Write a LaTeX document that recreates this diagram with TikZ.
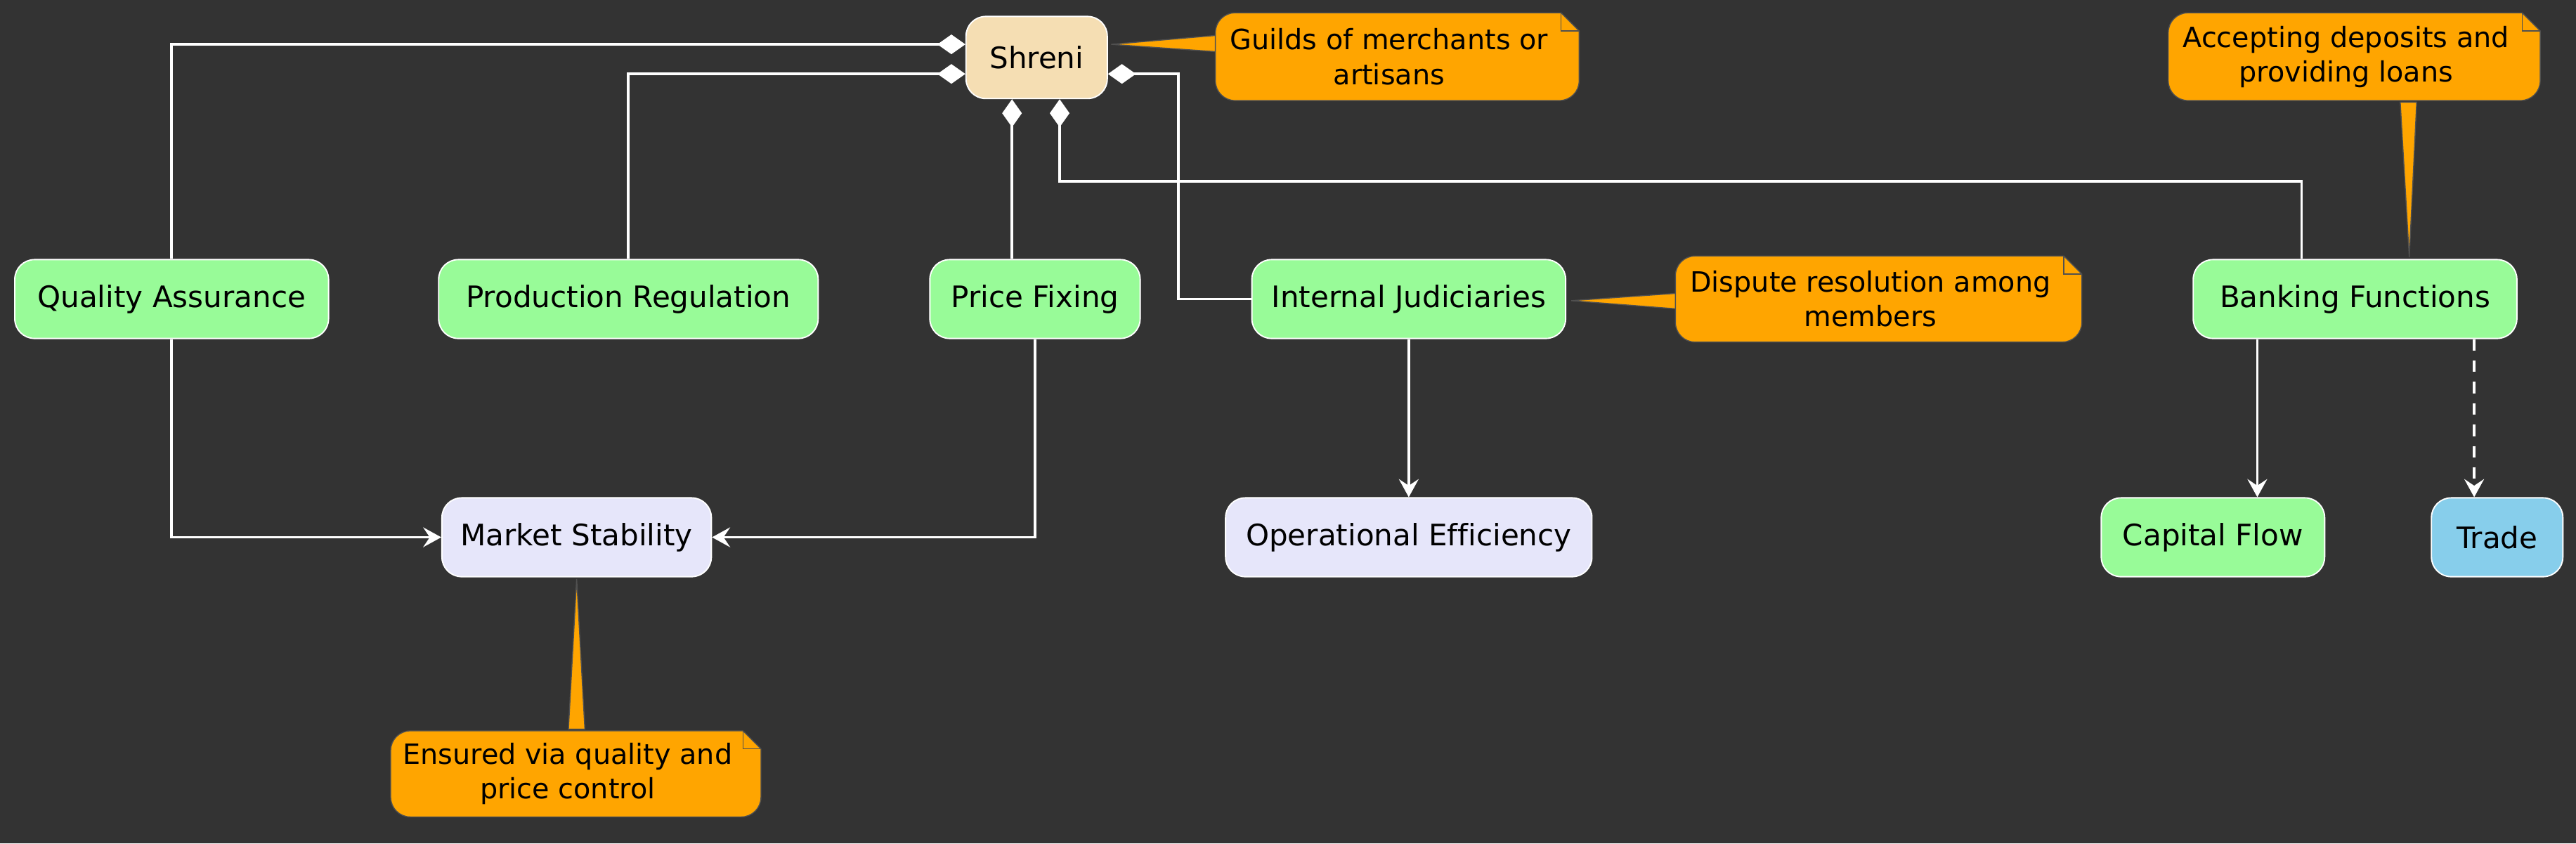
\documentclass[tikz,border=0pt]{standalone}
\usepackage{fontspec}
\setmainfont[Ligatures=NoCommon]{DejaVu Sans}
\usepackage{xcolor}
\usetikzlibrary{arrows.meta}
\definecolor{bgcol}{HTML}{333333}
\definecolor{palegreen}{HTML}{98FB98}
\definecolor{wheat}{HTML}{F5DEB3}
\definecolor{lavender}{HTML}{E6E6FA}
\definecolor{skyblue}{HTML}{87CEEB}
\definecolor{noteorange}{HTML}{FFA500}
\definecolor{noteline}{HTML}{505050}
\tikzset{
  box/.style={draw=white, line width=0.8pt, rounded corners=12pt, minimum height=48pt, inner sep=0pt, font=\fontsize{18}{21}\selectfont, text=black},
  notetext/.style={inner sep=0pt, minimum height=53pt, font=\fontsize{17}{21}\selectfont, align=center, text=black},
  notefill/.style={fill=noteorange, draw=noteline, line width=0.6pt},
  link/.style={white, line width=1.6pt},
  comp/.style={link, {Diamond[length=17pt,width=12pt]}-},
  flow/.style={link, -{Stealth[length=11pt,width=12pt,inset=4pt]}}
}
\newcommand{\notebody}[1]{%
  \filldraw[notefill] ([yshift=-12pt]#1.north west) arc[start angle=180,end angle=90,radius=12pt]
    -- ([xshift=-11pt]#1.north east) -- ([yshift=-11pt]#1.north east)
    -- ([yshift=12pt]#1.south east) arc[start angle=0,end angle=-90,radius=12pt]
    -- ([xshift=12pt]#1.south west) arc[start angle=270,end angle=180,radius=12pt] -- cycle;
  \draw[noteline, line width=0.6pt] ([xshift=-11pt]#1.north east) |- ([yshift=-11pt]#1.north east);
}
\begin{document}
\begin{tikzpicture}[x=1pt,y=1pt]
\fill[bgcol] (0,0) rectangle (1568,-513.3);
\useasboundingbox (0,0) rectangle (1568,-513.3);

\node[box, fill=wheat, minimum width=86pt, minimum height=50pt] (shreni) at (631,-35) {Shreni};
\node[box, fill=palegreen, minimum width=191pt] (qa) at (104.5,-182) {Quality Assurance};
\node[box, fill=palegreen, minimum width=231pt] (pr) at (382.5,-182) {Production Regulation};
\node[box, fill=palegreen, minimum width=128pt] (pf) at (630,-182) {Price Fixing};
\node[box, fill=palegreen, minimum width=191pt] (ij) at (857.5,-182) {Internal Judiciaries};
\node[box, fill=palegreen, minimum width=197pt] (bf) at (1433.5,-182) {Banking Functions};
\node[box, fill=lavender, minimum width=164pt] (ms) at (351,-327) {Market Stability};
\node[box, fill=lavender, minimum width=223pt] (oe) at (857.5,-327) {Operational Efficiency};
\node[box, fill=palegreen, minimum width=136pt] (cf) at (1347,-327) {Capital Flow};
\node[box, fill=skyblue, minimum width=80pt] (tr) at (1520,-327) {Trade};

\node[notetext, minimum width=221pt] (gnote) at (850.5,-34.5) {};
\node[notetext, minimum width=247pt, minimum height=52pt] (dnote) at (1143.5,-182) {};
\node[notetext, minimum width=226pt] (anote) at (1433,-34.5) {};
\node[notetext, minimum width=225pt, minimum height=52pt] (enote) at (350.5,-471) {};

\filldraw[notefill] ([shift={(2pt,8pt)}]shreni.east) -- ([shift={(1pt,13pt)}]gnote.west) -- ([shift={(1pt,3pt)}]gnote.west) -- cycle;
\filldraw[notefill] ([shift={(3pt,-1pt)}]ij.east) -- ([shift={(1pt,3.5pt)}]dnote.west) -- ([shift={(1pt,-6pt)}]dnote.west) -- cycle;
\filldraw[notefill] ([shift={(33pt,1pt)}]bf.north) -- ([shift={(28pt,-1pt)}]anote.south) -- ([shift={(38pt,-1pt)}]anote.south) -- cycle;
\filldraw[notefill] ([yshift=-1pt]ms.south) -- ([shift={(-4.5pt,1pt)}]enote.north) -- ([shift={(5.5pt,1pt)}]enote.north) -- cycle;
\notebody{gnote}
\notebody{dnote}
\notebody{anote}
\notebody{enote}
\node[notetext, minimum width=221pt] at ([xshift=-5pt]gnote.center) {Guilds of merchants or\\artisans};
\node[notetext, minimum width=247pt, minimum height=52pt] at ([xshift=-5pt]dnote.center) {Dispute resolution among\\members};
\node[notetext, minimum width=226pt] at ([xshift=-5pt]anote.center) {Accepting deposits and\\providing loans};
\node[notetext, minimum width=225pt, minimum height=52pt] at ([xshift=-5pt]enote.center) {Ensured via quality and\\price control};

\draw[comp] ([yshift=8pt]shreni.west) -| (qa.north);
\draw[comp] ([yshift=-10pt]shreni.west) -| (pr.north);
\draw[comp] ([xshift=-15pt]shreni.south) -- ([xshift=-15pt]shreni.south |- pf.north);
\draw[comp] ([xshift=14pt]shreni.south) -- ++(0,-50pt) -| ([xshift=-32.5pt]bf.north);
\draw[comp] ([yshift=-10pt]shreni.east) -- ++(43pt,0) |- (ij.west);

\draw[flow] (qa.south) |- (ms.west);
\draw[flow] (pf.south) |- (ms.east);
\draw[flow] (ij.south) -- (oe.north);
\draw[flow] ([xshift=-59.5pt]bf.south) -- ([xshift=-59.5pt]bf.south |- cf.north);
\draw[flow, dash pattern=on 7pt off 6pt] ([xshift=72.5pt]bf.south) -- ([xshift=72.5pt]bf.south |- tr.north);
\end{tikzpicture}
\end{document}
